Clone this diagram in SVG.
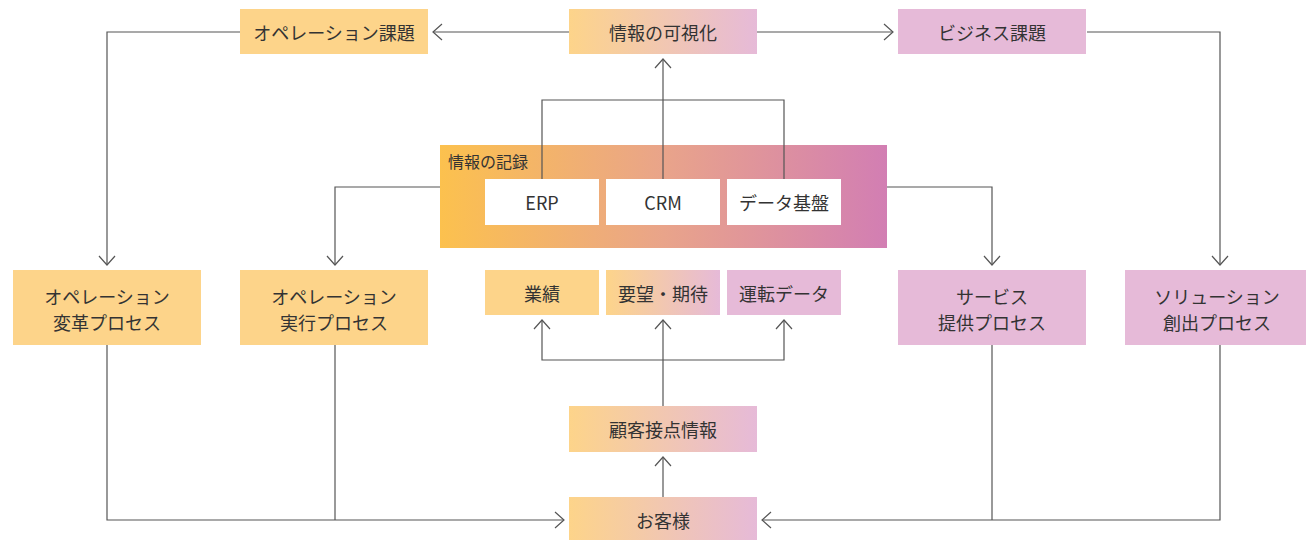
<svg xmlns="http://www.w3.org/2000/svg" width="1306" height="540" viewBox="0 0 1306 540">
<defs>
<linearGradient id="g1" x1="0" y1="0" x2="1" y2="0">
<stop offset="0" stop-color="#FDD48A"/>
<stop offset="1" stop-color="#E6BAD8"/>
</linearGradient>
<linearGradient id="g2" x1="0" y1="0" x2="1" y2="0">
<stop offset="0" stop-color="#FCC14E"/>
<stop offset="0.5" stop-color="#E9A48A"/>
<stop offset="1" stop-color="#D27EB3"/>
</linearGradient>
<marker id="arr" markerUnits="userSpaceOnUse" markerWidth="12" markerHeight="18" viewBox="-1 -1 12 18" refX="9" refY="8" orient="auto" overflow="visible">
<path d="M0,0 L9,8 L0,16" fill="none" stroke="#555" stroke-width="1.2"/>
</marker>
<style>
.o{fill:#FDD48A}
.p{fill:#E6BAD8}
.g{fill:url(#g1)}
.w{fill:#FFFFFF}
text{font-family:"Noto Sans CJK JP","Noto Sans",sans-serif;font-size:18px;fill:#333;text-anchor:middle;dominant-baseline:central}
.c path{fill:none;stroke:#555;stroke-width:1.2}
.lbl{font-size:16px;text-anchor:start}
</style>
</defs>
<rect width="1306" height="540" fill="#FFFFFF"/>

<g id="kiroku">
<rect x="440" y="145" width="447" height="103" fill="url(#g2)"/>
<text class="lbl" x="448" y="161">情報の記録</text>
</g>

<g class="c" id="connectors">
<path d="M569,32 H433" marker-end="url(#arr)"/>
<path d="M757,32 H893" marker-end="url(#arr)"/>
<path d="M240,32 H107 V265" marker-end="url(#arr)"/>
<path d="M1087,32 H1220 V265" marker-end="url(#arr)"/>
<path d="M440,187 H335 V265" marker-end="url(#arr)"/>
<path d="M887,187 H992 V265" marker-end="url(#arr)"/>
<path d="M542,179 V100 H784 V179"/>
<path d="M663,179 V59" marker-end="url(#arr)"/>
<path d="M663,406 V320" marker-end="url(#arr)"/>
<path d="M663,360 H542 V320" marker-end="url(#arr)"/>
<path d="M663,360 H784 V320" marker-end="url(#arr)"/>
<path d="M663,497 V457" marker-end="url(#arr)"/>
<path d="M107,345 V520 H564" marker-end="url(#arr)"/>
<path d="M335,345 V520"/>
<path d="M1220,345 V520 H762" marker-end="url(#arr)"/>
<path d="M992,345 V520"/>
</g>

<g id="op-kadai"><rect class="o" x="240" y="9" width="188" height="45"/><text x="334" y="32">オペレーション課題</text></g>
<g id="kashika"><rect class="g" x="569" y="9" width="188" height="45"/><text x="663" y="32">情報の可視化</text></g>
<g id="biz-kadai"><rect class="p" x="898" y="9" width="188" height="45"/><text x="992" y="32">ビジネス課題</text></g>

<g id="erp"><rect class="w" x="485" y="179" width="114" height="46"/><text x="542" y="202">ERP</text></g>
<g id="crm"><rect class="w" x="606" y="179" width="114" height="46"/><text x="663" y="202">CRM</text></g>
<g id="data-kiban"><rect class="w" x="727" y="179" width="114" height="46"/><text x="784" y="202">データ基盤</text></g>

<g id="op-henkaku"><rect class="o" x="13" y="270" width="188" height="75"/><text x="107" y="296">オペレーション</text><text x="107" y="322">変革プロセス</text></g>
<g id="op-jikko"><rect class="o" x="240" y="270" width="188" height="75"/><text x="334" y="296">オペレーション</text><text x="334" y="322">実行プロセス</text></g>
<g id="gyoseki"><rect class="o" x="485" y="270" width="114" height="45"/><text x="542" y="293">業績</text></g>
<g id="yobo"><rect class="g" x="606" y="270" width="114" height="45"/><text x="663" y="293">要望・期待</text></g>
<g id="unten"><rect class="p" x="727" y="270" width="114" height="45"/><text x="784" y="293">運転データ</text></g>
<g id="service"><rect class="p" x="898" y="270" width="188" height="75"/><text x="992" y="296">サービス</text><text x="992" y="322">提供プロセス</text></g>
<g id="solution"><rect class="p" x="1125" y="270" width="188" height="75"/><text x="1217" y="296">ソリューション</text><text x="1217" y="322">創出プロセス</text></g>

<g id="kokyaku-setten"><rect class="g" x="569" y="406" width="188" height="46"/><text x="663" y="429">顧客接点情報</text></g>
<g id="okyakusama"><rect class="g" x="569" y="497" width="188" height="46"/><text x="663" y="520">お客様</text></g>
</svg>
